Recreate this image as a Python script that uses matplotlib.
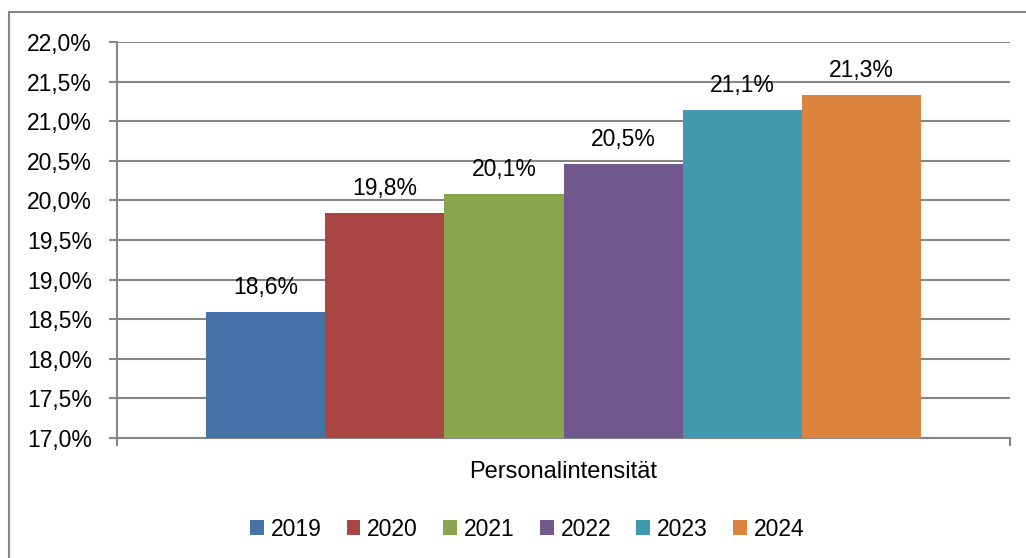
import matplotlib.pyplot as plt
from matplotlib.patches import Rectangle, Patch

years = ["2019", "2020", "2021", "2022", "2023", "2024"]
values = [18.59, 19.84, 20.08, 20.46, 21.14, 21.33]
colors = ["#4572A7", "#AA4643", "#89A54E", "#71588F", "#4198AF", "#DB843D"]
category = "Personalintensität"
yticks = [17.0, 17.5, 18.0, 18.5, 19.0, 19.5, 20.0, 20.5, 21.0, 21.5, 22.0]

plt.rcParams['font.family'] = ['Liberation Sans', 'DejaVu Sans']
grid_col = "#868686"
fs = 16.5

fig = plt.figure(figsize=(10.26, 5.58), dpi=100)
ax = fig.add_axes([117 / 1026, 1 - 438 / 558, 893 / 1026, 396 / 558])

# outer chart border
fig.patches.append(Rectangle((9 / 1026, -0.01), 1.0, 1 - 12 / 558 + 0.01,
                             transform=fig.transFigure, fill=False,
                             edgecolor=grid_col, linewidth=1.5))

w = 1 / 7.5
for i, (yr, v, c) in enumerate(zip(years, values, colors)):
    x = -0.5 + 0.75 * w + (i + 0.5) * w
    ax.bar(x, v - 17.0, bottom=17.0, width=w, color=c, zorder=3)
    ax.annotate(f"{v:.1f}%".replace(".", ","), (x, v), xytext=(0, 13),
                textcoords="offset points", ha="center", va="baseline",
                fontsize=fs)

ax.set_xlim(-0.5, 0.5)
ax.set_ylim(17.0, 22.0)
ax.set_yticks(yticks)
ax.set_yticklabels([f"{t:.1f}%".replace(".", ",") for t in yticks], fontsize=fs)
ax.yaxis.grid(True, color=grid_col, linewidth=1.5, zorder=0)
ax.tick_params(axis="y", length=6, width=1.5, color=grid_col, pad=12)
ax.set_xticks([-0.5, 0.5])
ax.set_xticklabels(["", ""])
ax.tick_params(axis="x", length=6, width=1.5, color=grid_col)
ax.text(0.5, -34 / 396, category, transform=ax.transAxes, ha="center",
        va="center", fontsize=17)

for s in ["top", "right"]:
    ax.spines[s].set_visible(False)
for s in ["left", "bottom"]:
    ax.spines[s].set_color(grid_col)
    ax.spines[s].set_linewidth(1.5)

handles = [Patch(facecolor=c, label=y) for y, c in zip(years, colors)]
fig.legend(handles=handles, loc="center", bbox_to_anchor=(527 / 1026, 1 - 529 / 558),
           ncol=6, frameon=False, fontsize=fs, handlelength=0.6,
           handleheight=0.6, handletextpad=0.3, columnspacing=1.1,
           borderpad=0)

fig.savefig("out.png", dpi=100)
